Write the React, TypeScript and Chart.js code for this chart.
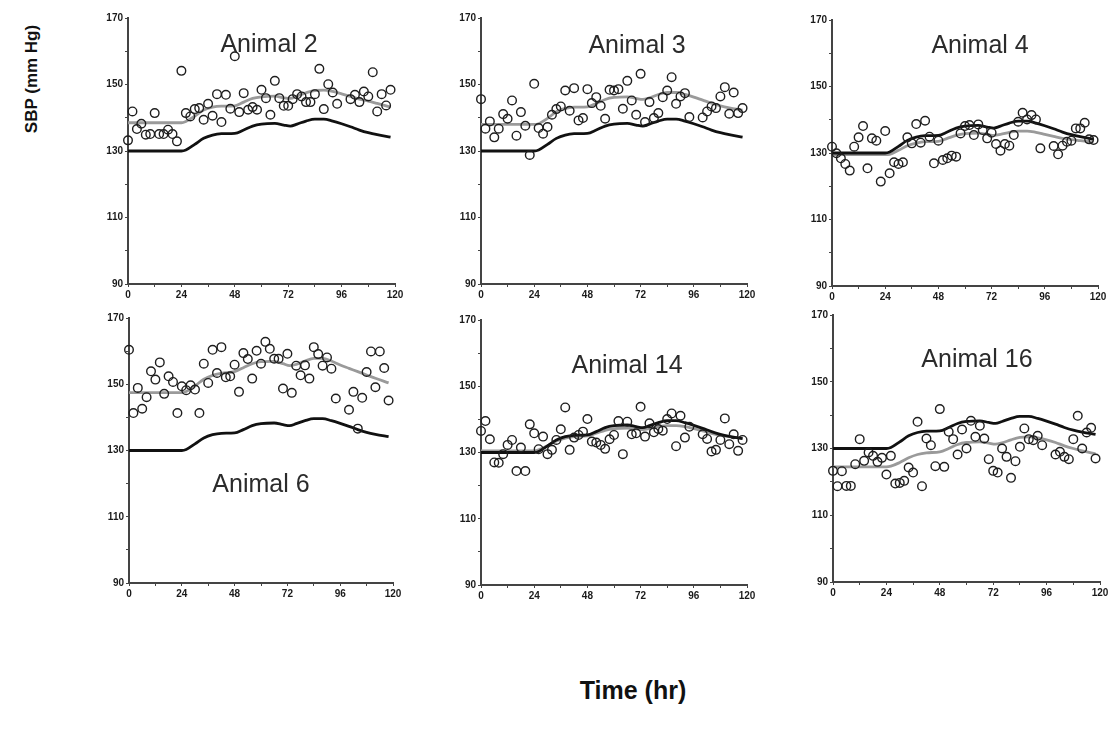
import React, { useEffect, useRef } from "react";
import { Chart, registerables } from "chart.js";

Chart.register(...registerables);

// Shared sampling times (hr) of the measured SBP points
const hours = [
  0, 2, 4, 6, 8, 10, 12, 14, 16, 18, 20, 22, 24, 26, 28, 30, 32, 34, 36, 38,
  40, 42, 44, 46, 48, 50, 52, 54, 56, 58, 60, 62, 64, 66, 68, 70, 72, 74, 76,
  78, 80, 82, 84, 86, 88, 90, 92, 94, 100, 102, 104, 106, 108, 110, 112, 114,
  116, 118,
];

// Times for the smooth curves
const curveHours = [
  0, 24, 26, 30, 34, 38, 42, 48, 52, 56, 60, 66, 70, 73, 76, 80, 84, 88, 92,
  96, 100, 104, 108, 112, 118,
];

// Black reference curve (same in every panel)
const referenceCurve = [
  130, 130, 130.3, 132, 133.8, 134.8, 135.2, 135.3, 136.3, 137.5, 138.1, 138.3,
  137.8, 137.5, 138.1, 139, 139.6, 139.6, 139, 138.2, 137.3, 136.3, 135.5,
  134.9, 134.2,
];

// Animal 2
const animal2Sbp = [
  133.2, 141.9, 136.6, 138.2, 134.9, 135.1, 141.4, 135.1, 135.1, 136.4, 135.1,
  132.9, 154.1, 141.4, 140.4, 142.6, 142.9, 139.4, 144.2, 140.6, 147.1, 138.7,
  146.9, 142.7, 158.5, 141.7, 147.4, 142.4, 143.2, 142.4, 148.4, 145.9, 140.9,
  151.1, 145.9, 143.6, 143.6, 145.6, 147.1, 146.4, 144.7, 144.7, 147.1, 154.7,
  142.6, 150.1, 147.6, 144.2, 145.6, 146.9, 144.7, 147.9, 146.4, 153.7, 141.9,
  147.1, 143.7, 148.4,
];
const animal2Fit = [
  138.5, 138.5, 138.9, 140.5, 142.3, 143.2, 143.5, 143.6, 144.7, 145.8, 146.3,
  146.5, 146, 145.8, 146.5, 147.5, 148.2, 148.3, 147.9, 147.2, 146.4, 145.6,
  145, 144.3, 143.2,
];

// Animal 3
const animal3Sbp = [
  145.6, 136.7, 138.9, 134.1, 136.7, 141.1, 139.7, 145.2, 134.6, 141.7, 137.6,
  128.8, 150.2, 136.9, 135.2, 137.2, 140.9, 142.6, 143.4, 148.2, 142.1, 148.9,
  139.2, 139.9, 148.6, 144.4, 146.2, 143.6, 139.7, 148.4, 148.2, 148.6, 142.7,
  151.1, 145.2, 140.9, 153.2, 138.7, 144.7, 139.9, 141.4, 146.2, 148.2, 152.2,
  144.2, 146.4, 147.4, 140.2, 140.1, 141.9, 143.4, 142.9, 146.4, 149.2, 141.2,
  147.6, 141.4, 142.9,
];
const animal3Fit = [
  138, 138, 138.2, 139.8, 141.8, 142.8, 143.2, 143.3, 144.3, 145.5, 146.1,
  146.3, 145.8, 145.5, 146, 147, 147.6, 147.6, 147, 146.2, 145.3, 144.4, 143.6,
  143, 142.3,
];

// Animal 4
const animal4Sbp = [
  131.9, 129.9, 128.4, 126.7, 124.7, 131.9, 134.7, 138.1, 125.4, 134.4, 133.7,
  121.4, 136.6, 123.9, 127.2, 126.7, 127.2, 134.7, 132.9, 138.7, 133.1, 139.7,
  134.9, 126.9, 133.7, 127.9, 128.4, 129.2, 128.9, 135.9, 138.1, 138.4, 135.4,
  138.6, 136.9, 134.4, 136.1, 132.7, 130.7, 132.7, 132.2, 135.4, 139.4, 142.1,
  140.1, 141.4, 140.1, 131.4, 132.1, 129.6, 132.2, 133.4, 133.7, 137.4, 137.4,
  139.1, 134.1, 133.9,
];
const animal4Fit = [
  129.5, 129.5, 129.6, 130.8, 132.2, 133, 133.4, 133.5, 134.4, 135.3, 135.8,
  136, 135.6, 135.3, 135.6, 136.2, 136.6, 136.6, 136.2, 135.6, 135, 134.4, 134,
  133.7, 133.3,
];

// Animal 6
const animal6Sbp = [
  160.4, 141.3, 148.9, 142.6, 146.1, 153.9, 151.4, 156.6, 147.1, 152.4, 150.7,
  141.3, 149.4, 148.2, 149.7, 148.4, 141.3, 156.2, 150.4, 160.4, 153.4, 161.2,
  152.1, 152.4, 155.9, 147.7, 159.4, 157.6, 151.7, 160.1, 156.2, 162.8, 160.7,
  157.7, 157.7, 148.7, 159.2, 147.4, 155.6, 152.7, 155.7, 151.7, 161.2, 159.1,
  155.6, 158.1, 154.7, 145.7, 142.3, 147.7, 136.6, 145.9, 153.7, 159.9, 149.1,
  159.9, 154.9, 145.1,
];
const animal6Fit = [
  147.5, 147.5, 147.8, 149.5, 151.5, 152.7, 153.3, 153.8, 155, 156.2, 156.8,
  156.9, 156.2, 155.6, 156, 157, 157.8, 157.8, 157, 155.8, 154.8, 153.8, 152.8,
  151.8, 150.4,
];

// Animal 14
const animal14Sbp = [
  136.5, 139.5, 134, 127, 126.9, 129.5, 132.3, 133.8, 124.4, 131.5, 124.4,
  138.5, 135.8, 131, 134.8, 129.5, 130.8, 133.8, 137, 143.6, 130.8, 134.5,
  135.3, 136.3, 140.1, 133.3, 133, 132.3, 131.1, 134, 135.3, 139.5, 129.5,
  139.3, 135.5, 135.8, 143.8, 134.8, 138.8, 136.1, 137.1, 136.6, 140.1, 141.8,
  131.9, 141.1, 134.5, 137.8, 135.5, 134.1, 130.3, 130.8, 133.8, 140.3, 132.5,
  135.5, 130.5, 133.8,
];
const animal14Fit = [
  130.5, 130.5, 130.8, 132, 133.5, 134.3, 134.8, 135, 135.8, 136.7, 137.2,
  137.4, 137.1, 136.9, 137.2, 137.8, 138.1, 138.1, 137.8, 137.2, 136.5, 135.8,
  135.2, 134.8, 134.3,
];

// Animal 16
const animal16Sbp = [
  123.3, 118.7, 123.2, 118.8, 118.8, 125.3, 132.8, 126.3, 128.8, 127.8, 126,
  127.2, 122.2, 127.8, 119.5, 119.7, 120.3, 124.3, 122.8, 138, 118.7, 133, 131,
  124.7, 141.8, 124.5, 135, 132.8, 128.2, 135.7, 130, 138.3, 133.5, 136.8, 133,
  126.8, 123.3, 122.8, 130, 127.5, 121.2, 126.2, 130.5, 136, 132.8, 132.5,
  133.8, 131, 128.2, 129, 127.5, 126.8, 132.8, 139.8, 130, 134.8, 136.2, 127,
];
const animal16Fit = [
  124.5, 124.5, 124.7, 125.8, 127.2, 128.2, 128.7, 129, 130, 131.2, 131.8, 132,
  131.6, 131.3, 131.7, 132.6, 133.3, 133.5, 133.2, 132.6, 131.8, 130.8, 130,
  129.3, 128.4,
];

const yTickLabels = [90, 110, 130, 150, 170];
const xTickLabels = [0, 24, 48, 72, 96, 120];

type PanelDef = {
  name: string;
  sbp: number[];
  fit: number[];
  labelAt: { x: number; y: number };
  box: { left: number; top: number; width: number; height: number };
};

const panels: PanelDef[] = [
  { name: "Animal 2", sbp: animal2Sbp, fit: animal2Fit, labelAt: { x: 63.4, y: 159.8 }, box: { left: 128, top: 18, width: 267, height: 266 } },
  { name: "Animal 3", sbp: animal3Sbp, fit: animal3Fit, labelAt: { x: 70.4, y: 159.5 }, box: { left: 481, top: 18, width: 266, height: 266 } },
  { name: "Animal 4", sbp: animal4Sbp, fit: animal4Fit, labelAt: { x: 66.8, y: 160.1 }, box: { left: 832, top: 20, width: 266, height: 266 } },
  { name: "Animal 6", sbp: animal6Sbp, fit: animal6Fit, labelAt: { x: 60, y: 117.5 }, box: { left: 129, top: 318, width: 264, height: 265 } },
  { name: "Animal 14", sbp: animal14Sbp, fit: animal14Fit, labelAt: { x: 65.9, y: 154 }, box: { left: 481, top: 320, width: 266, height: 265 } },
  { name: "Animal 16", sbp: animal16Sbp, fit: animal16Fit, labelAt: { x: 64.7, y: 154.4 }, box: { left: 833, top: 315, width: 267, height: 267 } },
];

const Y_AXIS_W = 34;
const PAD_T = 10;
const PAD_R = 16;
const X_AXIS_H = 22;

const labelPlugin = {
  id: "panelLabel",
  afterDatasetsDraw(chart: any, _args: any, opts: any) {
    const { ctx, scales } = chart;
    ctx.save();
    ctx.font = '25px "Liberation Sans", Arial, sans-serif';
    ctx.fillStyle = "#2b2b2b";
    ctx.textAlign = "center";
    ctx.textBaseline = "alphabetic";
    ctx.fillText(opts.text, scales.x.getPixelForValue(opts.x), scales.y.getPixelForValue(opts.y));
    ctx.restore();
  },
};

const tickFont = { family: '"Liberation Sans", Arial, sans-serif', size: 10, weight: "bold" as const };

function Panel({ p }: { p: PanelDef }) {
  const ref = useRef<HTMLCanvasElement>(null);
  const w = Y_AXIS_W + p.box.width + PAD_R;
  const h = PAD_T + p.box.height + X_AXIS_H;

  useEffect(() => {
    const chart = new Chart(ref.current as HTMLCanvasElement, {
      type: "scatter",
      data: {
        datasets: [
          {
            type: "scatter",
            data: hours.map((t, i) => ({ x: t, y: p.sbp[i] })),
            pointRadius: 4.3,
            pointBorderWidth: 1.4,
            pointBorderColor: "#1e1e1e",
            pointBackgroundColor: "rgba(0,0,0,0)",
            clip: false,
            order: 0,
          },
          {
            type: "line",
            data: curveHours.map((t, i) => ({ x: t, y: referenceCurve[i] })),
            borderColor: "#111",
            borderWidth: 2.8,
            pointRadius: 0,
            cubicInterpolationMode: "monotone",
            fill: false,
            order: 1,
          } as any,
          {
            type: "line",
            data: curveHours.map((t, i) => ({ x: t, y: p.fit[i] })),
            borderColor: "#9a9a9a",
            borderWidth: 2.8,
            pointRadius: 0,
            cubicInterpolationMode: "monotone",
            fill: false,
            order: 2,
          } as any,
        ],
      },
      options: {
        responsive: false,
        animation: false,
        layout: { padding: { left: 0, top: PAD_T, right: PAD_R, bottom: 0 } },
        plugins: {
          legend: { display: false },
          tooltip: { enabled: false },
          panelLabel: { text: p.name, x: p.labelAt.x, y: p.labelAt.y },
        } as any,
        scales: {
          x: {
            type: "linear",
            min: 0,
            max: 120,
            afterFit: (s: any) => {
              s.height = X_AXIS_H;
            },
            ticks: {
              stepSize: 12,
              autoSkip: false,
              maxRotation: 0,
              padding: 2,
              color: "#1a1a1a",
              font: tickFont,
              callback: (v: any) => (xTickLabels.includes(Number(v)) ? String(v) : ""),
            },
            grid: { drawOnChartArea: false, drawTicks: true, tickLength: 3, color: "#444" },
            border: { display: true, color: "#444", width: 2 },
          },
          y: {
            type: "linear",
            min: 90,
            max: 170,
            afterFit: (s: any) => {
              s.width = Y_AXIS_W;
            },
            ticks: {
              stepSize: 10,
              autoSkip: false,
              padding: 2,
              color: "#1a1a1a",
              font: tickFont,
              callback: (v: any) => (yTickLabels.includes(Number(v)) ? String(v) : ""),
            },
            grid: { drawOnChartArea: false, drawTicks: true, tickLength: 3, color: "#444" },
            border: { display: true, color: "#444", width: 2 },
          },
        },
      },
      plugins: [labelPlugin],
    } as any);
    return () => chart.destroy();
  }, [p]);

  return (
    <canvas
      ref={ref}
      width={w}
      height={h}
      style={{
        position: "absolute",
        left: p.box.left - Y_AXIS_W,
        top: p.box.top - PAD_T,
        width: w,
        height: h,
      }}
    />
  );
}

export default function App() {
  return (
    <div
      style={{
        position: "absolute",
        left: 0,
        top: 0,
        width: 1114,
        height: 744,
        background: "#fff",
        overflow: "hidden",
        fontFamily: '"Liberation Sans", Arial, sans-serif',
      }}
    >
      {panels.map((p) => (
        <Panel key={p.name} p={p} />
      ))}
      <div
        style={{
          position: "absolute",
          left: 32,
          top: 79,
          transform: "translate(-50%, -50%) rotate(-90deg)",
          whiteSpace: "nowrap",
          fontWeight: "bold",
          fontSize: 17,
          color: "#111",
        }}
      >
        SBP (mm Hg)
      </div>
      <div
        style={{
          position: "absolute",
          left: 633,
          top: 690,
          transform: "translate(-50%, -50%)",
          whiteSpace: "nowrap",
          fontWeight: "bold",
          fontSize: 25,
          color: "#111",
        }}
      >
        Time (hr)
      </div>
    </div>
  );
}
